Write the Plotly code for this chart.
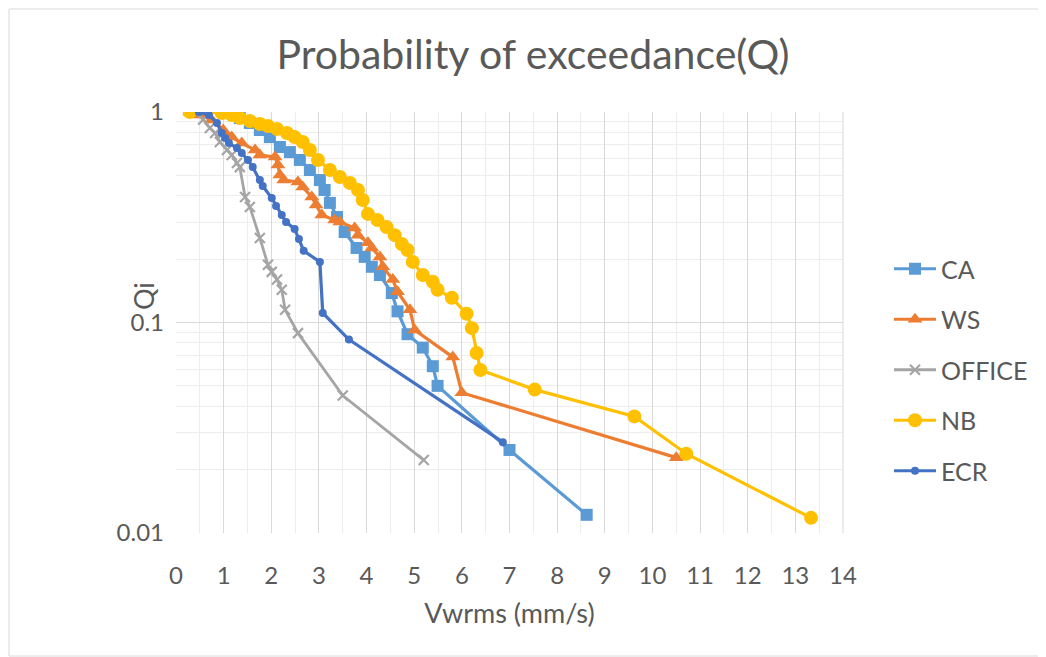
import plotly.graph_objects as go

# ---- data ----
ca_x = [1.17, 1.34, 1.55, 1.76, 1.97, 2.18, 2.39, 2.60, 2.81, 3.02, 3.12, 3.23, 3.38, 3.54,
        3.79, 3.96, 4.11, 4.28, 4.53, 4.65, 4.86, 5.18, 5.39, 5.49, 7.00, 8.62]
ca_y = [1.0, 0.936, 0.887, 0.821, 0.76, 0.682, 0.645, 0.592, 0.53, 0.475, 0.426, 0.37, 0.317, 0.269,
        0.226, 0.205, 0.184, 0.168, 0.138, 0.113, 0.088, 0.076, 0.062, 0.050, 0.0248, 0.0122]

ws_x = [0.29, 0.50, 0.75, 0.99, 1.17, 1.38, 1.66, 1.76, 2.08, 2.14, 2.18, 2.26, 2.56, 2.66, 2.85,
        2.94, 3.06, 3.33, 3.44, 3.75, 3.82, 4.03, 4.11, 4.28, 4.34, 4.55, 4.65, 4.91, 5.01, 5.81,
        6.00, 10.5]
ws_y = [1.0, 0.968, 0.916, 0.821, 0.76, 0.712, 0.66, 0.625, 0.611, 0.56, 0.502, 0.475, 0.465, 0.44,
        0.395, 0.362, 0.324, 0.307, 0.30, 0.281, 0.26, 0.239, 0.226, 0.205, 0.184, 0.16, 0.14, 0.115,
        0.092, 0.0685, 0.0464, 0.0228]

office_x = [0.40, 0.57, 0.71, 0.82, 0.92, 1.07, 1.17, 1.28, 1.34, 1.45, 1.55, 1.76, 1.93, 2.01,
            2.12, 2.22, 2.29, 2.56, 3.50, 5.20]
office_y = [1.0, 0.92, 0.839, 0.795, 0.72, 0.66, 0.625, 0.573, 0.547, 0.395, 0.354, 0.252, 0.188,
            0.174, 0.160, 0.143, 0.115, 0.089, 0.045, 0.0222]

nb_x = [0.29, 0.96, 1.17, 1.34, 1.55, 1.76, 1.93, 2.12, 2.33, 2.49, 2.66, 2.81, 2.98, 3.23, 3.44,
        3.65, 3.82, 3.92, 4.03, 4.23, 4.42, 4.59, 4.74, 4.86, 4.97, 5.18, 5.39, 5.49, 5.79, 6.10,
        6.21, 6.31, 6.39, 7.53, 9.62, 10.71, 13.33]
nb_y = [1.0, 0.989, 0.968, 0.936, 0.906, 0.877, 0.858, 0.83, 0.795, 0.76, 0.72, 0.66, 0.592, 0.53,
        0.491, 0.46, 0.426, 0.382, 0.328, 0.307, 0.284, 0.26, 0.236, 0.221, 0.194, 0.168, 0.156,
        0.143, 0.131, 0.11, 0.094, 0.0716, 0.0595, 0.048, 0.0358, 0.0238, 0.0118]

ecr_x = [0.48, 0.69, 0.86, 0.96, 1.03, 1.11, 1.28, 1.38, 1.51, 1.61, 1.76, 1.82, 2.01, 2.10, 2.22,
         2.31, 2.49, 2.58, 2.68, 3.02, 3.08, 3.63, 6.86]
ecr_y = [1.0, 0.968, 0.887, 0.795, 0.752, 0.712, 0.674, 0.639, 0.592, 0.548, 0.475, 0.445, 0.39,
         0.358, 0.324, 0.30, 0.278, 0.249, 0.219, 0.194, 0.111, 0.083, 0.027]

x_ticks = list(range(0, 15))
y_ticks = [0.01, 0.1, 1]
y_tick_labels = ["0.01", "0.1", "1"]

FONT = "Lato"
TXT = "#595959"

# page body has an 8px margin: figure is shrunk so it fills the 1046x657 window
W, H = 1038, 649
L, T, PW, PH = 168, 104, 667, 421

fig = go.Figure()
series = [
    ("CA", ca_x, ca_y, "#5B9BD5", "square", 12, 3.2),
    ("WS", ws_x, ws_y, "#ED7D31", "triangle-up", 13, 3.2),
    ("OFFICE", office_x, office_y, "#A5A5A5", "x-thin", 10, 2.8),
    ("NB", nb_x, nb_y, "#FFC000", "circle", 14, 3.2),
    ("ECR", ecr_x, ecr_y, "#4472C4", "circle", 8, 3.2),
]
for name, xs, ys, col, sym, sz, lw in series:
    mk = dict(color=col, symbol=sym, size=sz)
    if sym == "x-thin":
        mk["line"] = dict(color=col, width=2.2)
    fig.add_trace(go.Scatter(x=xs, y=ys, name=name, mode="lines+markers",
                             line=dict(color=col, width=lw), marker=mk,
                             legendgroup=name))

minor_y = [v * d for d in (0.01, 0.1) for v in range(2, 10)]

fig.update_layout(
    width=W, height=H,
    paper_bgcolor="white", plot_bgcolor="white",
    margin=dict(l=L, r=W - L - PW, t=T, b=H - T - PH),
    font=dict(family=FONT, color=TXT, size=24),
    title=dict(text="Probability of exceedance(Q)", x=(533 - 8) / W, xanchor="center",
               y=1 - (55 - 8) / H, yanchor="middle", yref="container",
               font=dict(size=41, color=TXT, family=FONT)),
    legend=dict(xref="container", yref="container",
                x=(889 - 8) / W, xanchor="left",
                y=1 - (370 - 8) / H, yanchor="middle",
                font=dict(size=25, color=TXT, family=FONT), itemwidth=42,
                tracegroupgap=15, bgcolor="rgba(0,0,0,0)"),
    showlegend=True,
)
fig.update_xaxes(
    range=[0, 14], tickvals=x_ticks, showgrid=True, gridcolor="#D9D9D9", gridwidth=1,
    minor=dict(dtick=0.5, tick0=0, showgrid=True, gridcolor="#EDEDED", gridwidth=1),
    zeroline=False, showline=False, ticks="", ticklabelstandoff=26,
    tickfont=dict(size=24, color=TXT),
    title=dict(text="Vwrms (mm/s)", font=dict(size=27, color=TXT), standoff=16),
)
fig.update_yaxes(
    type="log", range=[-2, 0], tickvals=y_ticks, ticktext=y_tick_labels,
    showgrid=True, gridcolor="#D9D9D9", gridwidth=1,
    minor=dict(tickvals=minor_y, showgrid=True, gridcolor="#EDEDED", gridwidth=1),
    zeroline=False, showline=False, ticks="", ticklabelstandoff=11,
    tickfont=dict(size=24, color=TXT),
)
# right plot border (14 line) and chart frame
fig.add_shape(type="line", xref="paper", yref="paper", x0=1, x1=1, y0=0, y1=1,
              line=dict(color="#D9D9D9", width=1))
fig.add_shape(type="rect", xref="paper", yref="paper",
              x0=(1 - L) / PW, x1=(1032 - L) / PW,
              y0=-(H - 1 - T - PH) / PH, y1=(T + PH - 1) / PH,
              line=dict(color="#D9D9D9", width=1))
fig.add_annotation(text="Qi", xref="paper", yref="paper",
                   x=(143 - 8 - L) / PW, y=(T + PH - (296 - 8)) / PH, showarrow=False,
                   textangle=-90, font=dict(size=27, color=TXT, family=FONT),
                   xanchor="center", yanchor="middle")

fig.write_html("out.html")
